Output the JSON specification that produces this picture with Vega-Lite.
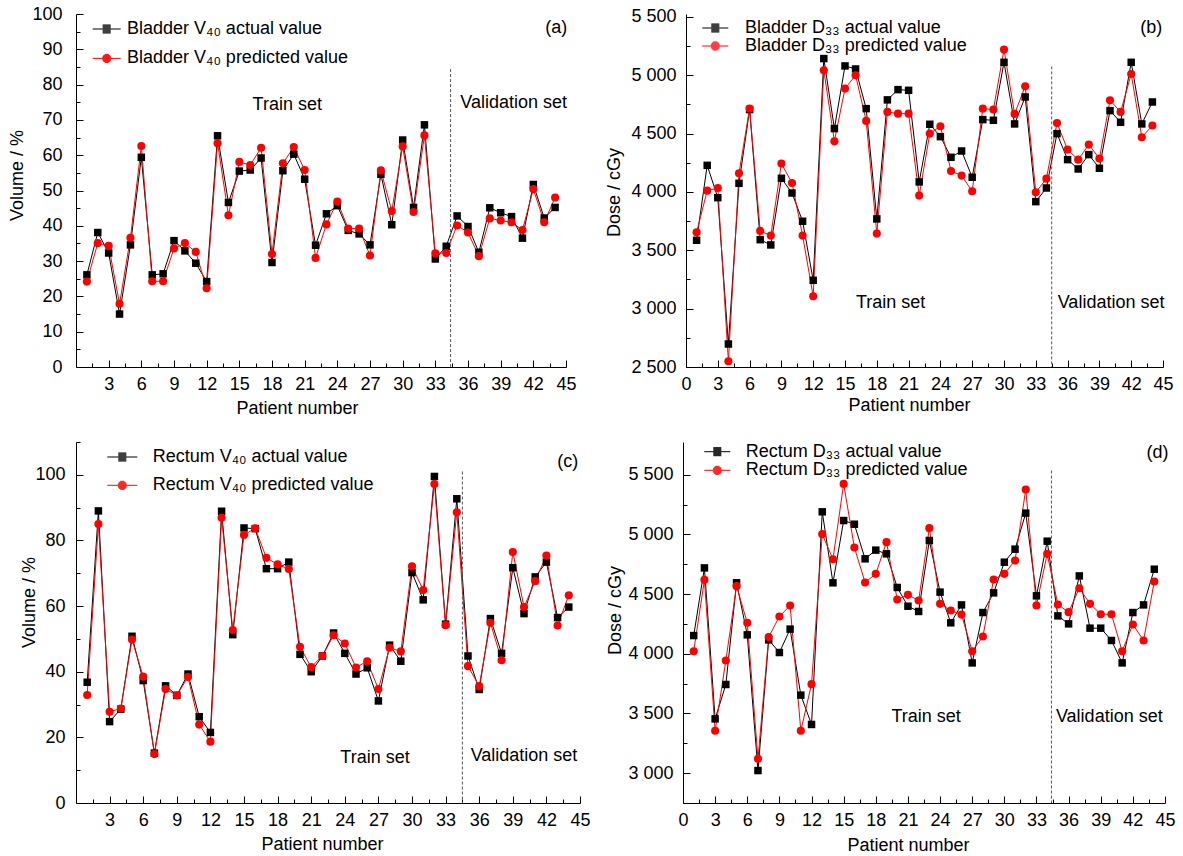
{
  "$schema": "https://vega.github.io/schema/vega-lite/v6.json",
  "autosize": {"type": "pad"},
  "padding": {"left": 8, "top": 5, "right": 5, "bottom": 5},
  "background": "white",
  "datasets": {
    "a": [
      {"n":1,"actual":26.1,"predicted":24.2},{"n":2,"actual":38.1,"predicted":35.1},{"n":3,"actual":32.3,"predicted":34.3},{"n":4,"actual":15.0,"predicted":17.9},{"n":5,"actual":34.6,"predicted":36.6},{"n":6,"actual":59.4,"predicted":62.6},{"n":7,"actual":26.1,"predicted":24.3},{"n":8,"actual":26.4,"predicted":24.3},{"n":9,"actual":35.8,"predicted":33.6},{"n":10,"actual":32.9,"predicted":35.1},{"n":11,"actual":29.4,"predicted":32.6},{"n":12,"actual":24.2,"predicted":22.3},{"n":13,"actual":65.5,"predicted":63.4},{"n":14,"actual":46.6,"predicted":43.0},{"n":15,"actual":55.5,"predicted":58.1},{"n":16,"actual":55.8,"predicted":57.2},{"n":17,"actual":59.2,"predicted":62.1},{"n":18,"actual":29.6,"predicted":32.0},{"n":19,"actual":55.6,"predicted":57.7},{"n":20,"actual":60.3,"predicted":62.3},{"n":21,"actual":53.2,"predicted":55.8},{"n":22,"actual":34.5,"predicted":30.9},{"n":23,"actual":43.4,"predicted":40.4},{"n":24,"actual":45.7,"predicted":46.9},{"n":25,"actual":38.7,"predicted":39.2},{"n":26,"actual":37.7,"predicted":39.2},{"n":27,"actual":34.6,"predicted":31.6},{"n":28,"actual":54.6,"predicted":55.7},{"n":29,"actual":40.3,"predicted":44.2},{"n":30,"actual":64.3,"predicted":62.5},{"n":31,"actual":45.2,"predicted":43.9},{"n":32,"actual":68.6,"predicted":65.6},{"n":33,"actual":30.6,"predicted":32.2},{"n":34,"actual":34.2,"predicted":32.3},{"n":35,"actual":42.8,"predicted":40.1},{"n":36,"actual":39.8,"predicted":38.1},{"n":37,"actual":32.5,"predicted":31.4},{"n":38,"actual":45.1,"predicted":42.1},{"n":39,"actual":43.7,"predicted":41.5},{"n":40,"actual":42.6,"predicted":41.0},{"n":41,"actual":36.5,"predicted":38.8},{"n":42,"actual":51.7,"predicted":50.4},{"n":43,"actual":42.2,"predicted":41.0},{"n":44,"actual":45.2,"predicted":48.0}
    ],
    "b": [
      {"n":1,"actual":3586,"predicted":3654},{"n":2,"actual":4228,"predicted":4011},{"n":3,"actual":3951,"predicted":4034},{"n":4,"actual":2697,"predicted":2549},{"n":5,"actual":4074,"predicted":4160},{"n":6,"actual":4706,"predicted":4715},{"n":7,"actual":3591,"predicted":3666},{"n":8,"actual":3546,"predicted":3626},{"n":9,"actual":4117,"predicted":4243},{"n":10,"actual":3991,"predicted":4077},{"n":11,"actual":3749,"predicted":3626},{"n":12,"actual":3243,"predicted":3106},{"n":13,"actual":5143,"predicted":5043},{"n":14,"actual":4543,"predicted":4434},{"n":15,"actual":5080,"predicted":4886},{"n":16,"actual":5054,"predicted":5000},{"n":17,"actual":4714,"predicted":4609},{"n":18,"actual":3769,"predicted":3643},{"n":19,"actual":4789,"predicted":4686},{"n":20,"actual":4877,"predicted":4671},{"n":21,"actual":4871,"predicted":4671},{"n":22,"actual":4086,"predicted":3969},{"n":23,"actual":4580,"predicted":4500},{"n":24,"actual":4474,"predicted":4563},{"n":25,"actual":4297,"predicted":4180},{"n":26,"actual":4351,"predicted":4140},{"n":27,"actual":4126,"predicted":4006},{"n":28,"actual":4620,"predicted":4714},{"n":29,"actual":4614,"predicted":4706},{"n":30,"actual":5111,"predicted":5220},{"n":31,"actual":4583,"predicted":4669},{"n":32,"actual":4814,"predicted":4906},{"n":33,"actual":3917,"predicted":3997},{"n":34,"actual":4034,"predicted":4114},{"n":35,"actual":4500,"predicted":4591},{"n":36,"actual":4277,"predicted":4363},{"n":37,"actual":4197,"predicted":4277},{"n":38,"actual":4320,"predicted":4406},{"n":39,"actual":4203,"predicted":4286},{"n":40,"actual":4697,"predicted":4786},{"n":41,"actual":4597,"predicted":4686},{"n":42,"actual":5111,"predicted":5011},{"n":43,"actual":4583,"predicted":4469},{"n":44,"actual":4771,"predicted":4569}
    ],
    "c": [
      {"n":1,"actual":36.8,"predicted":32.9},{"n":2,"actual":89.0,"predicted":85.0},{"n":3,"actual":24.8,"predicted":27.8},{"n":4,"actual":28.6,"predicted":28.8},{"n":5,"actual":50.8,"predicted":49.8},{"n":6,"actual":37.3,"predicted":38.5},{"n":7,"actual":15.2,"predicted":14.9},{"n":8,"actual":35.7,"predicted":34.7},{"n":9,"actual":32.8,"predicted":32.8},{"n":10,"actual":39.3,"predicted":38.4},{"n":11,"actual":26.3,"predicted":23.9},{"n":12,"actual":21.5,"predicted":18.7},{"n":13,"actual":88.9,"predicted":86.9},{"n":14,"actual":51.3,"predicted":52.7},{"n":15,"actual":83.8,"predicted":81.7},{"n":16,"actual":83.6,"predicted":83.7},{"n":17,"actual":71.4,"predicted":74.7},{"n":18,"actual":71.4,"predicted":72.7},{"n":19,"actual":73.4,"predicted":71.3},{"n":20,"actual":45.3,"predicted":47.6},{"n":21,"actual":40.0,"predicted":41.4},{"n":22,"actual":44.8,"predicted":44.8},{"n":23,"actual":51.8,"predicted":51.1},{"n":24,"actual":45.6,"predicted":48.6},{"n":25,"actual":39.3,"predicted":41.3},{"n":26,"actual":41.2,"predicted":43.2},{"n":27,"actual":31.1,"predicted":34.7},{"n":28,"actual":48.1,"predicted":47.3},{"n":29,"actual":43.2,"predicted":46.2},{"n":30,"actual":70.2,"predicted":72.1},{"n":31,"actual":61.9,"predicted":64.9},{"n":32,"actual":99.5,"predicted":97.2},{"n":33,"actual":54.5,"predicted":54.2},{"n":34,"actual":92.7,"predicted":88.6},{"n":35,"actual":44.8,"predicted":41.7},{"n":36,"actual":34.6,"predicted":35.6},{"n":37,"actual":56.2,"predicted":54.9},{"n":38,"actual":45.6,"predicted":43.5},{"n":39,"actual":71.7,"predicted":76.5},{"n":40,"actual":57.7,"predicted":59.7},{"n":41,"actual":68.9,"predicted":67.6},{"n":42,"actual":73.4,"predicted":75.4},{"n":43,"actual":56.5,"predicted":54.1},{"n":44,"actual":59.7,"predicted":63.3}
    ],
    "d": [
      {"n":1,"actual":4153,"predicted":4022},{"n":2,"actual":4720,"predicted":4620},{"n":3,"actual":3455,"predicted":3355},{"n":4,"actual":3743,"predicted":3944},{"n":5,"actual":4595,"predicted":4567},{"n":6,"actual":4159,"predicted":4260},{"n":7,"actual":3022,"predicted":3120},{"n":8,"actual":4117,"predicted":4140},{"n":9,"actual":4011,"predicted":4313},{"n":10,"actual":4207,"predicted":4405},{"n":11,"actual":3654,"predicted":3355},{"n":12,"actual":3408,"predicted":3746},{"n":13,"actual":5190,"predicted":5003},{"n":14,"actual":4595,"predicted":4793},{"n":15,"actual":5117,"predicted":5424},{"n":16,"actual":5086,"predicted":4891},{"n":17,"actual":4796,"predicted":4598},{"n":18,"actual":4869,"predicted":4670},{"n":19,"actual":4838,"predicted":4936},{"n":20,"actual":4556,"predicted":4455},{"n":21,"actual":4399,"predicted":4494},{"n":22,"actual":4355,"predicted":4447},{"n":23,"actual":4950,"predicted":5053},{"n":24,"actual":4517,"predicted":4419},{"n":25,"actual":4260,"predicted":4363},{"n":26,"actual":4410,"predicted":4329},{"n":27,"actual":3924,"predicted":4022},{"n":28,"actual":4346,"predicted":4145},{"n":29,"actual":4511,"predicted":4623},{"n":30,"actual":4768,"predicted":4670},{"n":31,"actual":4877,"predicted":4782},{"n":32,"actual":5179,"predicted":5377},{"n":33,"actual":4486,"predicted":4405},{"n":34,"actual":4944,"predicted":4838},{"n":35,"actual":4318,"predicted":4413},{"n":36,"actual":4251,"predicted":4349},{"n":37,"actual":4653,"predicted":4550},{"n":38,"actual":4215,"predicted":4419},{"n":39,"actual":4215,"predicted":4332},{"n":40,"actual":4112,"predicted":4332},{"n":41,"actual":3924,"predicted":4022},{"n":42,"actual":4346,"predicted":4246},{"n":43,"actual":4410,"predicted":4112},{"n":44,"actual":4709,"predicted":4606}
    ]
  },
  "bounds": "full",
  "spacing": 24,
  "vconcat": [
    {
      "bounds": "flush",
      "spacing": 120,
      "resolve": {"scale": {"color": "independent", "shape": "independent", "size": "independent"}, "legend": {"color": "independent", "shape": "independent"}},
      "hconcat": [
        {
          "width": 490, "height": 353,
          "data": {"name": "a"},
          "resolve": {"axis": {"x": "independent", "y": "independent"}, "scale": {"shape": "independent", "color": "independent"}},
          "layer": [
            {
              "transform": [{"fold": ["actual", "predicted"], "as": ["series", "value"]}],
              "mark": {"type": "line", "strokeWidth": 1},
              "encoding": {
                "x": {"field": "n", "type": "quantitative", "scale": {"domain": [0, 45], "nice": false},
                  "axis": {"values": [3,6,9,12,15,18,21,24,27,30,33,36,39,42,45], "tickSize": -7, "labelPadding": 15, "labelDx": 3, "title": "Patient number", "titleX": 221, "titleY": 41, "titleBaseline": "middle", "titleAlign": "center"}},
                "y": {"field": "value", "type": "quantitative", "scale": {"domain": [0, 100], "nice": false},
                  "axis": {"values": [0,10,20,30,40,50,60,70,80,90,100], "tickSize": -7, "labelPadding": 21, "title": "Volume / %", "titleX": -59, "titleY": 161, "titleAngle": 270, "titleBaseline": "middle", "titleAlign": "center"}},
                "color": {"field": "series", "type": "nominal", "scale": {"domain": ["actual", "predicted"], "range": ["#000000", "#ff0000"]}, "legend": null}
              }
            },
            {
              "transform": [{"fold": ["actual", "predicted"], "as": ["series", "value"]}],
              "mark": {"type": "point", "filled": true, "opacity": 1},
              "encoding": {
                "x": {"field": "n", "type": "quantitative", "axis": {"orient": "bottom", "values": [1.5,4.5,7.5,10.5,13.5,16.5,19.5,22.5,25.5,28.5,31.5,34.5,37.5,40.5,43.5], "tickSize": -4, "labels": false, "domain": false, "title": null}},
                "y": {"field": "value", "type": "quantitative", "axis": {"orient": "left", "values": [5,15,25,35,45,55,65,75,85,95], "tickSize": -4, "labels": false, "domain": false, "title": null}},
                "color": {"field": "series", "type": "nominal", "scale": {"domain": ["actual", "predicted"], "range": ["#000000", "#ff0000"]}, "legend": null},
                "shape": {"field": "series", "type": "nominal", "scale": {"domain": ["actual", "predicted"], "range": ["square", "circle"]}, "legend": null},
                "size": {"field": "series", "type": "nominal", "scale": {"domain": ["actual", "predicted"], "range": [56, 66]}, "legend": null}
              }
            },
            {
              "data": {"values": []},
              "mark": {"type": "point", "filled": false, "strokeWidth": 1, "opacity": 1},
              "encoding": {
                "color": {"field": "series", "type": "nominal", "scale": {"domain": ["actual", "predicted"], "range": ["#000000", "#ff0000"]},
                  "legend": {"orient": "none", "legendX": 21.7, "legendY": 6, "title": null, "padding": 0, "symbolSize": 100, "symbolStrokeWidth": 1, "labelFontSize": 18, "labelOffset": 11.3, "rowPadding": 11.4, "labelLimit": 0, "labelExpr": "datum.value === 'actual' ? '\u00a0Bladder V₄₀ actual value' : 'Bladder V₄₀ predicted value'"}},
                "shape": {"field": "series", "type": "nominal", "scale": {"domain": ["actual", "predicted"], "range": ["M-2.8,0H2.8M-0.8,-0.8H0.8M-0.8,-0.6H0.8M-0.8,-0.4H0.8M-0.8,-0.2H0.8M-0.8,0.2H0.8M-0.8,0.4H0.8M-0.8,0.6H0.8M-0.8,0.8H0.8", "M-2.8,0H2.8M-0.41,-0.8H0.41M-0.67,-0.6H0.67M-0.81,-0.4H0.81M-0.88,-0.2H0.88M-0.88,0.2H0.88M-0.81,0.4H0.81M-0.67,0.6H0.67M-0.41,0.8H0.41"]},
                  "legend": {"orient": "none", "legendX": 21.7, "legendY": 6, "title": null, "padding": 0, "symbolSize": 100, "symbolStrokeWidth": 1, "labelFontSize": 18, "labelOffset": 11.3, "rowPadding": 11.4, "labelLimit": 0, "labelExpr": "datum.value === 'actual' ? '\u00a0Bladder V₄₀ actual value' : 'Bladder V₄₀ predicted value'"}}
              }
            },
            {
              "data": {"values": [{}]},
              "mark": {"type": "rule", "strokeDash": [3, 2], "color": "#555555", "strokeWidth": 1},
              "encoding": {"x": {"datum": 34.4, "axis": null}, "y": {"datum": 84.4, "axis": null}, "y2": {"datum": 0}}
            },
            {
              "data": {"values": [{}]},
              "mark": {"type": "text", "fontSize": 18, "color": "#000000"},
              "encoding": {"x": {"datum": 19.4, "axis": null}, "y": {"datum": 74.2, "axis": null}, "text": {"value": "Train set"}}
            },
            {
              "data": {"values": [{}]},
              "mark": {"type": "text", "fontSize": 18, "color": "#000000"},
              "encoding": {"x": {"datum": 40.2, "axis": null}, "y": {"datum": 74.7, "axis": null}, "text": {"value": "Validation set"}}
            },
            {
              "data": {"values": [{}]},
              "mark": {"type": "text", "fontSize": 18, "color": "#000000"},
              "encoding": {"x": {"datum": 44.1, "axis": null}, "y": {"datum": 96.0, "axis": null}, "text": {"value": "(a)"}}
            }
          ]
        },
        {
          "width": 477, "height": 353,
          "data": {"name": "b"},
          "resolve": {"axis": {"x": "independent", "y": "independent"}, "scale": {"shape": "independent", "color": "independent"}},
          "layer": [
            {
              "transform": [{"fold": ["actual", "predicted"], "as": ["series", "value"]}],
              "mark": {"type": "line", "strokeWidth": 1},
              "encoding": {
                "x": {"field": "n", "type": "quantitative", "scale": {"domain": [0, 45], "nice": false},
                  "axis": {"values": [0,3,6,9,12,15,18,21,24,27,30,33,36,39,42,45], "tickSize": -7, "labelPadding": 15, "labelDx": 4, "title": "Patient number", "titleX": 223, "titleY": 38, "titleBaseline": "middle", "titleAlign": "center"}},
                "y": {"field": "value", "type": "quantitative", "scale": {"domain": [2500, 5525], "nice": false, "zero": false},
                  "axis": {"values": [2500,3000,3500,4000,4500,5000,5500], "labelExpr": "replace(format(datum.value, ','), ',', ' ')", "tickSize": -7, "labelPadding": 17, "title": "Dose / cGy", "titleX": -72, "titleY": 178, "titleAngle": 270, "titleBaseline": "middle", "titleAlign": "center"}},
                "color": {"field": "series", "type": "nominal", "scale": {"domain": ["actual", "predicted"], "range": ["#000000", "#ff0000"]}, "legend": null}
              }
            },
            {
              "transform": [{"fold": ["actual", "predicted"], "as": ["series", "value"]}],
              "mark": {"type": "point", "filled": true, "opacity": 1},
              "encoding": {
                "x": {"field": "n", "type": "quantitative", "axis": {"orient": "bottom", "values": [1.5,4.5,7.5,10.5,13.5,16.5,19.5,22.5,25.5,28.5,31.5,34.5,37.5,40.5,43.5], "tickSize": -4, "labels": false, "domain": false, "title": null}},
                "y": {"field": "value", "type": "quantitative", "axis": {"orient": "left", "values": [2750,3250,3750,4250,4750,5250], "tickSize": -4, "labels": false, "domain": false, "title": null}},
                "color": {"field": "series", "type": "nominal", "scale": {"domain": ["actual", "predicted"], "range": ["#000000", "#ff0000"]}, "legend": null},
                "shape": {"field": "series", "type": "nominal", "scale": {"domain": ["actual", "predicted"], "range": ["square", "circle"]}, "legend": null},
                "size": {"field": "series", "type": "nominal", "scale": {"domain": ["actual", "predicted"], "range": [56, 66]}, "legend": null}
              }
            },
            {
              "data": {"values": []},
              "mark": {"type": "point", "filled": false, "strokeWidth": 1, "opacity": 1},
              "encoding": {
                "color": {"field": "series", "type": "nominal", "scale": {"domain": ["actual", "predicted"], "range": ["#000000", "#ff0000"]},
                  "legend": {"orient": "none", "legendX": 20.3, "legendY": 5, "title": null, "padding": 0, "symbolSize": 100, "symbolStrokeWidth": 1, "labelFontSize": 18, "labelOffset": 20.7, "rowPadding": -1.7, "labelLimit": 0, "labelExpr": "datum.value === 'actual' ? 'Bladder D₃₃ actual value' : 'Bladder D₃₃ predicted value'"}},
                "shape": {"field": "series", "type": "nominal", "scale": {"domain": ["actual", "predicted"], "range": ["M-2.6,0H2.6M-0.8,-0.8H0.8M-0.8,-0.6H0.8M-0.8,-0.4H0.8M-0.8,-0.2H0.8M-0.8,0.2H0.8M-0.8,0.4H0.8M-0.8,0.6H0.8M-0.8,0.8H0.8", "M-2.6,0H2.6M-0.41,-0.8H0.41M-0.67,-0.6H0.67M-0.81,-0.4H0.81M-0.88,-0.2H0.88M-0.88,0.2H0.88M-0.81,0.4H0.81M-0.67,0.6H0.67M-0.41,0.8H0.41"]},
                  "legend": {"orient": "none", "legendX": 20.3, "legendY": 5, "title": null, "padding": 0, "symbolSize": 100, "symbolStrokeWidth": 1, "labelFontSize": 18, "labelOffset": 20.7, "rowPadding": -1.7, "labelLimit": 0, "labelExpr": "datum.value === 'actual' ? 'Bladder D₃₃ actual value' : 'Bladder D₃₃ predicted value'"}}
              }
            },
            {
              "data": {"values": [{}]},
              "mark": {"type": "rule", "strokeDash": [3, 2], "color": "#555555", "strokeWidth": 1},
              "encoding": {"x": {"datum": 34.5, "axis": null}, "y": {"datum": 5076, "axis": null}, "y2": {"datum": 2500}}
            },
            {
              "data": {"values": [{}]},
              "mark": {"type": "text", "fontSize": 18, "color": "#000000"},
              "encoding": {"x": {"datum": 19.3, "axis": null}, "y": {"datum": 3048, "axis": null}, "text": {"value": "Train set"}}
            },
            {
              "data": {"values": [{}]},
              "mark": {"type": "text", "fontSize": 18, "color": "#000000"},
              "encoding": {"x": {"datum": 40.1, "axis": null}, "y": {"datum": 3048, "axis": null}, "text": {"value": "Validation set"}}
            },
            {
              "data": {"values": [{}]},
              "mark": {"type": "text", "fontSize": 18, "color": "#000000"},
              "encoding": {"x": {"datum": 43.9, "axis": null}, "y": {"datum": 5408, "axis": null}, "text": {"value": "(b)"}}
            }
          ]
        }
      ]
    },
    {
      "bounds": "flush",
      "spacing": 103,
      "resolve": {"scale": {"color": "independent", "shape": "independent", "size": "independent"}, "legend": {"color": "independent", "shape": "independent"}},
      "hconcat": [
        {
          "width": 504, "height": 361,
          "data": {"name": "c"},
          "resolve": {"axis": {"x": "independent", "y": "independent"}, "scale": {"shape": "independent", "color": "independent"}},
          "layer": [
            {
              "transform": [{"fold": ["actual", "predicted"], "as": ["series", "value"]}],
              "mark": {"type": "line", "strokeWidth": 1},
              "encoding": {
                "x": {"field": "n", "type": "quantitative", "scale": {"domain": [0, 45], "nice": false},
                  "axis": {"values": [3,6,9,12,15,18,21,24,27,30,33,36,39,42,45], "tickSize": -7, "labelPadding": 15, "labelDx": 3, "title": "Patient number", "titleX": 246, "titleY": 41, "titleBaseline": "middle", "titleAlign": "center"}},
                "y": {"field": "value", "type": "quantitative", "scale": {"domain": [0, 110], "nice": false},
                  "axis": {"values": [0,20,40,60,80,100], "tickSize": -7, "labelPadding": 18, "title": "Volume / %", "titleX": -47, "titleY": 160, "titleAngle": 270, "titleBaseline": "middle", "titleAlign": "center"}},
                "color": {"field": "series", "type": "nominal", "scale": {"domain": ["actual", "predicted"], "range": ["#000000", "#ff0000"]}, "legend": null}
              }
            },
            {
              "transform": [{"fold": ["actual", "predicted"], "as": ["series", "value"]}],
              "mark": {"type": "point", "filled": true, "opacity": 1},
              "encoding": {
                "x": {"field": "n", "type": "quantitative", "axis": {"orient": "bottom", "values": [1.5,4.5,7.5,10.5,13.5,16.5,19.5,22.5,25.5,28.5,31.5,34.5,37.5,40.5,43.5], "tickSize": -4, "labels": false, "domain": false, "title": null}},
                "y": {"field": "value", "type": "quantitative", "axis": {"orient": "left", "values": [10,30,50,70,90,110], "tickSize": -4, "labels": false, "domain": false, "title": null}},
                "color": {"field": "series", "type": "nominal", "scale": {"domain": ["actual", "predicted"], "range": ["#000000", "#ff0000"]}, "legend": null},
                "shape": {"field": "series", "type": "nominal", "scale": {"domain": ["actual", "predicted"], "range": ["square", "circle"]}, "legend": null},
                "size": {"field": "series", "type": "nominal", "scale": {"domain": ["actual", "predicted"], "range": [56, 66]}, "legend": null}
              }
            },
            {
              "data": {"values": []},
              "mark": {"type": "point", "filled": false, "strokeWidth": 1, "opacity": 1},
              "encoding": {
                "color": {"field": "series", "type": "nominal", "scale": {"domain": ["actual", "predicted"], "range": ["#000000", "#ff0000"]},
                  "legend": {"orient": "none", "legendX": 37.3, "legendY": 6, "title": null, "padding": 0, "symbolSize": 100, "symbolStrokeWidth": 1, "labelFontSize": 18, "labelOffset": 21.4, "rowPadding": 10.3, "labelLimit": 0, "labelExpr": "datum.value === 'actual' ? 'Rectum V₄₀ actual value' : 'Rectum V₄₀ predicted value'"}},
                "shape": {"field": "series", "type": "nominal", "scale": {"domain": ["actual", "predicted"], "range": ["M-3,0H3M-0.8,-0.8H0.8M-0.8,-0.6H0.8M-0.8,-0.4H0.8M-0.8,-0.2H0.8M-0.8,0.2H0.8M-0.8,0.4H0.8M-0.8,0.6H0.8M-0.8,0.8H0.8", "M-3,0H3M-0.41,-0.8H0.41M-0.67,-0.6H0.67M-0.81,-0.4H0.81M-0.88,-0.2H0.88M-0.88,0.2H0.88M-0.81,0.4H0.81M-0.67,0.6H0.67M-0.41,0.8H0.41"]},
                  "legend": {"orient": "none", "legendX": 37.3, "legendY": 6, "title": null, "padding": 0, "symbolSize": 100, "symbolStrokeWidth": 1, "labelFontSize": 18, "labelOffset": 21.4, "rowPadding": 10.3, "labelLimit": 0, "labelExpr": "datum.value === 'actual' ? 'Rectum V₄₀ actual value' : 'Rectum V₄₀ predicted value'"}}
              }
            },
            {
              "data": {"values": [{}]},
              "mark": {"type": "rule", "strokeDash": [3, 2], "color": "#555555", "strokeWidth": 1},
              "encoding": {"x": {"datum": 34.5, "axis": null}, "y": {"datum": 101, "axis": null}, "y2": {"datum": 0}}
            },
            {
              "data": {"values": [{}]},
              "mark": {"type": "text", "fontSize": 18, "color": "#000000"},
              "encoding": {"x": {"datum": 26.7, "axis": null}, "y": {"datum": 13.7, "axis": null}, "text": {"value": "Train set"}}
            },
            {
              "data": {"values": [{}]},
              "mark": {"type": "text", "fontSize": 18, "color": "#000000"},
              "encoding": {"x": {"datum": 40.0, "axis": null}, "y": {"datum": 14.2, "axis": null}, "text": {"value": "Validation set"}}
            },
            {
              "data": {"values": [{}]},
              "mark": {"type": "text", "fontSize": 18, "color": "#000000"},
              "encoding": {"x": {"datum": 43.9, "axis": null}, "y": {"datum": 104.0, "axis": null}, "text": {"value": "(c)"}}
            }
          ]
        },
        {
          "width": 482, "height": 361,
          "data": {"name": "d"},
          "resolve": {"axis": {"x": "independent", "y": "independent"}, "scale": {"shape": "independent", "color": "independent"}},
          "layer": [
            {
              "transform": [{"fold": ["actual", "predicted"], "as": ["series", "value"]}],
              "mark": {"type": "line", "strokeWidth": 1},
              "encoding": {
                "x": {"field": "n", "type": "quantitative", "scale": {"domain": [0, 45], "nice": false},
                  "axis": {"values": [0,3,6,9,12,15,18,21,24,27,30,33,36,39,42,45], "tickSize": -7, "labelPadding": 15, "labelDx": 4, "title": "Patient number", "titleX": 225, "titleY": 42, "titleBaseline": "middle", "titleAlign": "center"}},
                "y": {"field": "value", "type": "quantitative", "scale": {"domain": [2750, 5775], "nice": false, "zero": false},
                  "axis": {"values": [3000,3500,4000,4500,5000,5500], "labelExpr": "replace(format(datum.value, ','), ',', ' ')", "tickSize": -7, "labelPadding": 17, "title": "Dose / cGy", "titleX": -68, "titleY": 168, "titleAngle": 270, "titleBaseline": "middle", "titleAlign": "center"}},
                "color": {"field": "series", "type": "nominal", "scale": {"domain": ["actual", "predicted"], "range": ["#000000", "#ff0000"]}, "legend": null}
              }
            },
            {
              "transform": [{"fold": ["actual", "predicted"], "as": ["series", "value"]}],
              "mark": {"type": "point", "filled": true, "opacity": 1},
              "encoding": {
                "x": {"field": "n", "type": "quantitative", "axis": {"orient": "bottom", "values": [1.5,4.5,7.5,10.5,13.5,16.5,19.5,22.5,25.5,28.5,31.5,34.5,37.5,40.5,43.5], "tickSize": -4, "labels": false, "domain": false, "title": null}},
                "y": {"field": "value", "type": "quantitative", "axis": {"orient": "left", "values": [3250,3750,4250,4750,5250], "tickSize": -4, "labels": false, "domain": false, "title": null}},
                "color": {"field": "series", "type": "nominal", "scale": {"domain": ["actual", "predicted"], "range": ["#000000", "#ff0000"]}, "legend": null},
                "shape": {"field": "series", "type": "nominal", "scale": {"domain": ["actual", "predicted"], "range": ["square", "circle"]}, "legend": null},
                "size": {"field": "series", "type": "nominal", "scale": {"domain": ["actual", "predicted"], "range": [56, 66]}, "legend": null}
              }
            },
            {
              "data": {"values": []},
              "mark": {"type": "point", "filled": false, "strokeWidth": 1, "opacity": 1},
              "encoding": {
                "color": {"field": "series", "type": "nominal", "scale": {"domain": ["actual", "predicted"], "range": ["#000000", "#ff0000"]},
                  "legend": {"orient": "none", "legendX": 25.3, "legendY": 0.7, "title": null, "padding": 0, "symbolSize": 100, "symbolStrokeWidth": 1, "labelFontSize": 18, "labelOffset": 19.4, "rowPadding": 0.6, "labelLimit": 0, "labelExpr": "datum.value === 'actual' ? 'Rectum D₃₃ actual value' : 'Rectum D₃₃ predicted value'"}},
                "shape": {"field": "series", "type": "nominal", "scale": {"domain": ["actual", "predicted"], "range": ["M-2.6,0H2.6M-0.8,-0.8H0.8M-0.8,-0.6H0.8M-0.8,-0.4H0.8M-0.8,-0.2H0.8M-0.8,0.2H0.8M-0.8,0.4H0.8M-0.8,0.6H0.8M-0.8,0.8H0.8", "M-2.6,0H2.6M-0.41,-0.8H0.41M-0.67,-0.6H0.67M-0.81,-0.4H0.81M-0.88,-0.2H0.88M-0.88,0.2H0.88M-0.81,0.4H0.81M-0.67,0.6H0.67M-0.41,0.8H0.41"]},
                  "legend": {"orient": "none", "legendX": 25.3, "legendY": 0.7, "title": null, "padding": 0, "symbolSize": 100, "symbolStrokeWidth": 1, "labelFontSize": 18, "labelOffset": 19.4, "rowPadding": 0.6, "labelLimit": 0, "labelExpr": "datum.value === 'actual' ? 'Rectum D₃₃ actual value' : 'Rectum D₃₃ predicted value'"}}
              }
            },
            {
              "data": {"values": [{}]},
              "mark": {"type": "rule", "strokeDash": [3, 2], "color": "#555555", "strokeWidth": 1},
              "encoding": {"x": {"datum": 34.4, "axis": null}, "y": {"datum": 5536, "axis": null}, "y2": {"datum": 2750}}
            },
            {
              "data": {"values": [{}]},
              "mark": {"type": "text", "fontSize": 18, "color": "#000000"},
              "encoding": {"x": {"datum": 22.7, "axis": null}, "y": {"datum": 3469, "axis": null}, "text": {"value": "Train set"}}
            },
            {
              "data": {"values": [{}]},
              "mark": {"type": "text", "fontSize": 18, "color": "#000000"},
              "encoding": {"x": {"datum": 39.8, "axis": null}, "y": {"datum": 3469, "axis": null}, "text": {"value": "Validation set"}}
            },
            {
              "data": {"values": [{}]},
              "mark": {"type": "text", "fontSize": 18, "color": "#000000"},
              "encoding": {"x": {"datum": 44.3, "axis": null}, "y": {"datum": 5679, "axis": null}, "text": {"value": "(d)"}}
            }
          ]
        }
      ]
    }
  ],
  "config": {
    "font": "Liberation Sans",
    "view": {"stroke": null},
    "text": {"font": "Liberation Sans"},
    "axis": {"grid": false, "domainColor": "#000000", "domainWidth": 1, "tickColor": "#000000", "tickWidth": 1, "labelColor": "#000000", "titleColor": "#000000", "labelFont": "Liberation Sans", "titleFont": "Liberation Sans", "labelFontSize": 18, "titleFontSize": 18, "titleFontWeight": "normal", "labelOverlap": false, "labelFlush": false, "labelBound": false},
    "legend": {"labelFont": "Liberation Sans", "labelColor": "#000000"}
  }
}
